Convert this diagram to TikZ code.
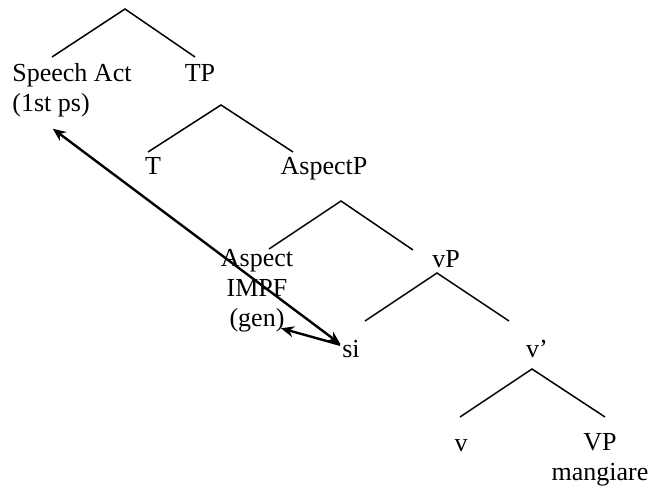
\documentclass[tikz,border=0pt]{standalone}
\usepackage{fontspec}
\setmainfont{Liberation Serif}
\usepackage{tikz}
\usetikzlibrary{arrows.meta}
\tikzset{
	word/.style={
		font=\fontsize{13}{15}\selectfont,
		inner sep=0pt,
		anchor=base
	},
	branch/.style={
		draw=black,
		line width=0.75pt
	},
	move/.style={
		draw=black,
		line width=1.2pt,
		shorten <=1pt,
		{Stealth[length=6.5pt,width=5.5pt]}-{Stealth[length=6.5pt,width=5.5pt]}
	},
	moveOne/.style={
		draw=black,
		line width=1.2pt,
		-{Stealth[length=6.5pt,width=5.5pt]}
	},
}

\begin{document}
\begin{tikzpicture}[x=0.5pt,y=-0.5pt]
	\useasboundingbox (0,0) rectangle (648,490);

	% speech act layer
	\node [word, anchor=base west, align=left] (speechAct) at (12,112) {Speech Act\\(1st ps)};
	\node [word] (tp) at (200,82) {TP};
	\coordinate (topRoot) at (125,9);
	\coordinate (topLeft) at (52,57);
	\coordinate (topRight) at (195,57);
	\draw [branch] (topLeft) -- (topRoot) -- (topRight);

	% tense
	\node [word] (t) at (153,175) {T};
	\node [word] (aspectP) at (324,175) {AspectP};
	\coordinate (tpRoot) at (221,105);
	\coordinate (tpLeft) at (148,152);
	\coordinate (tpRight) at (293,152);
	\draw [branch] (tpLeft) -- (tpRoot) -- (tpRight);

	% aspect
	\node [word, align=center] (aspect) at (257,327) {Aspect\\IMPF\\(gen)};
	\node [word] (vP) at (446,268) {vP};
	\coordinate (aspRoot) at (341,201);
	\coordinate (aspLeft) at (269,249);
	\coordinate (aspRight) at (413,250);
	\draw [branch] (aspLeft) -- (aspRoot) -- (aspRight);

	% little v
	\node [word] (si) at (351,358) {si};
	\node [word] (vBar) at (537,358) {v'};
	\coordinate (vpRoot) at (437,273);
	\coordinate (vpLeft) at (365,321);
	\coordinate (vpRight) at (509,321);
	\draw [branch] (vpLeft) -- (vpRoot) -- (vpRight);

	\node [word] (v) at (461,452) {v};
	\node [word, align=center] (verbP) at (600,481) {VP\\mangiare};
	\coordinate (barRoot) at (532,369);
	\coordinate (barLeft) at (460,417);
	\coordinate (barRight) at (605,417);
	\draw [branch] (barLeft) -- (barRoot) -- (barRight);

	% movement
	\draw [move, shorten >=9pt, shorten <=1pt] (si.155) -- (speechAct.219);
	\draw [moveOne, shorten <=1pt, shorten >=-6.5pt] (si.155) -- (aspect.312);
\end{tikzpicture}
\end{document}
